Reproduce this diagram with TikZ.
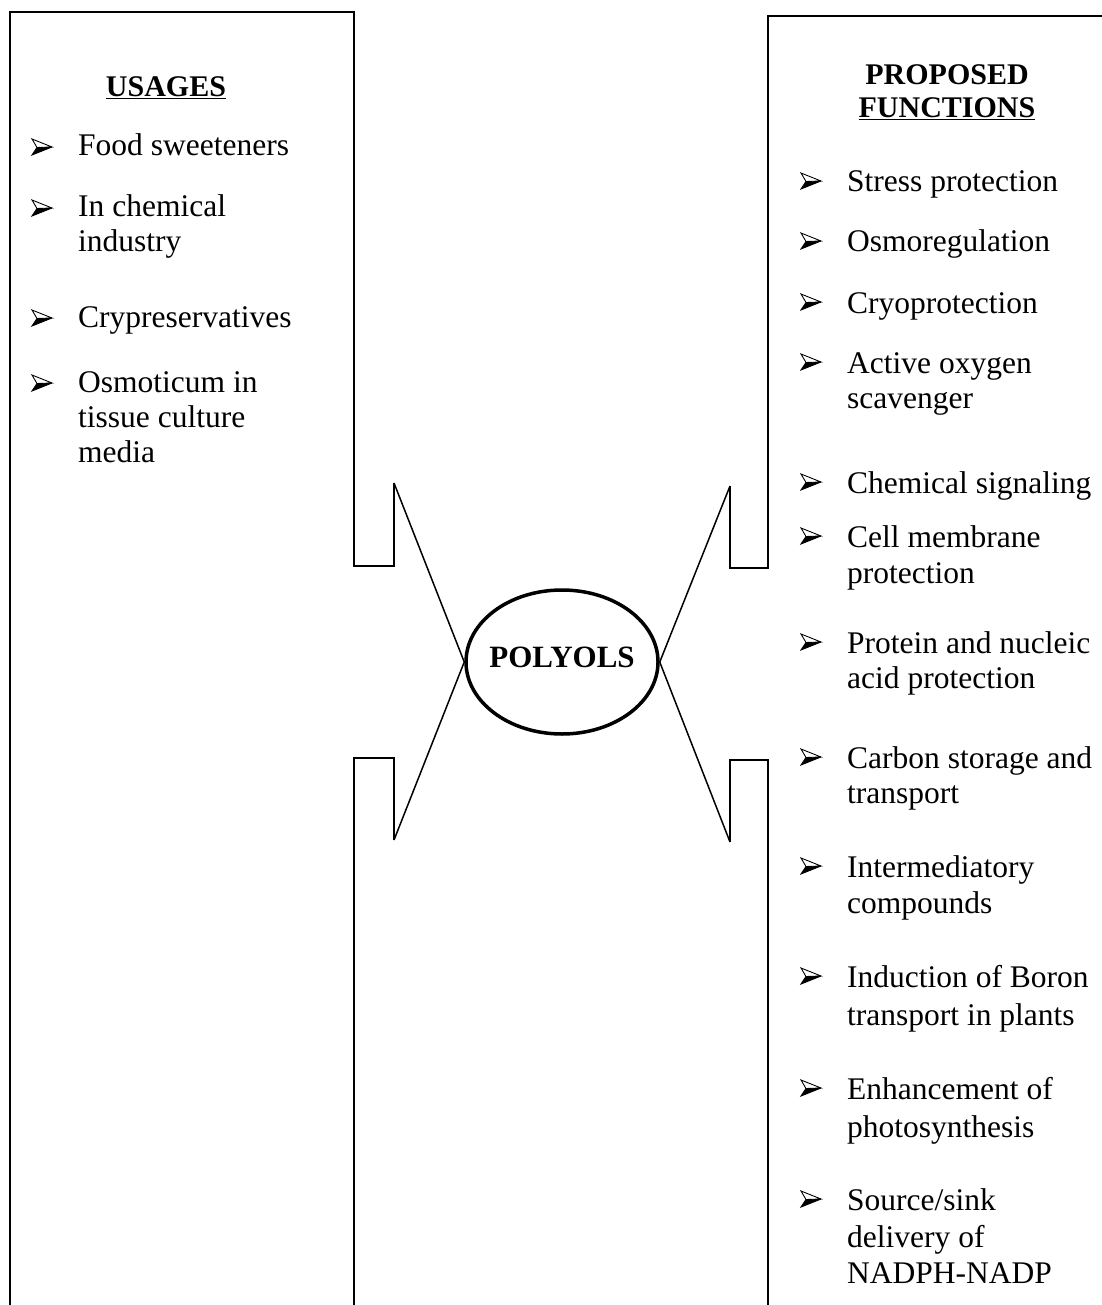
\documentclass[tikz,border=0pt]{standalone}
\usepackage{fontspec}
\setmainfont{Liberation Serif}
\usetikzlibrary{shapes.geometric}
\newcommand{\srcsink}{Source/sink}
\begin{document}
\begin{tikzpicture}[x=1pt,y=-1pt,
  boxline/.style={line width=2pt, line join=miter},
  conn/.style={line width=1.5pt},
  itemtext/.style={anchor=base west, inner sep=0pt, font=\fontsize{31.5}{36}\selectfont},
  headtext/.style={anchor=base, inner sep=0pt, font=\fontsize{30}{33}\selectfont\bfseries},
  bul/.pic={
    \fill[black] (5,-7.5) -- (20,-8) -- (0,0) -- cycle;
    \draw[line width=0.9pt, line join=miter] (5,-7.5) -- (0,-16) -- (20,-8) -- cycle;
    \draw[line width=0.9pt, line join=miter] (5,-7.5) -- (0,0) -- (20,-8);
  }]
\useasboundingbox (0,0) rectangle (1101,1305);
\fill[white] (0,0) rectangle (1101,1305);

% central ellipse
\node[draw, ellipse, line width=3.5pt, minimum width=192pt, minimum height=144pt, inner sep=0pt] (poly) at (562,662) {};
\node[headtext, font=\fontsize{31}{34}\selectfont\bfseries] (polytxt) at (562,667) {POLYOLS};

% notch tips
\coordinate (ltop) at (394,483);
\coordinate (lbot) at (394,840);
\coordinate (rtop) at (730,486);
\coordinate (rbot) at (730,842);

% left box
\draw[boxline] (10,1310) -- (10,12) -- (354,12) -- (354,566) -- (394,566) -- (ltop);
\draw[boxline] (lbot) -- (394,758) -- (354,758) -- (354,1310);
% right box
\draw[boxline] (1110,16) -- (768,16) -- (768,568) -- (730,568) -- (rtop);
\draw[boxline] (rbot) -- (730,760) -- (768,760) -- (768,1310);

% connectors to ellipse
\draw[conn] (ltop) -- (poly.west) -- (lbot);
\draw[conn] (rtop) -- (poly.east) -- (rbot);

% headings
\node[headtext] (usages) at (166,97) {\underline{USAGES}};
\node[headtext] (prop) at (947,85) {PROPOSED};
\node[headtext] (func) at (947,118) {\underline{FUNCTIONS}};

% left items
\foreach \y/\t/\b [count=\i] in {
  156/Food sweeteners/1,
  217/In chemical/1,
  252/industry/0,
  327/Crypreservatives/1,
  392/Osmoticum in/1,
  427/tissue culture/0,
  462/media/0}{
  \node[itemtext] (L\i) at (78,\y) {\t};
  \ifnum\b=1 \pic at (32,\y-1) {bul}; \fi
}

% right items
\foreach \y/\t/\b [count=\i] in {
  192/Stress protection/1,
  252/Osmoregulation/1,
  313/Cryoprotection/1,
  373/Active oxygen/1,
  408/scavenger/0,
  493/Chemical signaling/1,
  547/Cell membrane/1,
  583/protection/0,
  653/Protein and nucleic/1,
  688/acid protection/0,
  768/Carbon storage and/1,
  803/transport/0,
  877/Intermediatory/1,
  913/compounds/0,
  987/Induction of Boron/1,
  1025/transport in plants/0,
  1099/Enhancement of/1,
  1137/photosynthesis/0,
  1210/\srcsink/1,
  1247/delivery of/0,
  1283/NADPH-NADP/0}{
  \node[itemtext] (R\i) at (847,\y) {\t};
  \ifnum\b=1 \pic at (801,\y-3) {bul}; \fi
}
\end{tikzpicture}
\end{document}
